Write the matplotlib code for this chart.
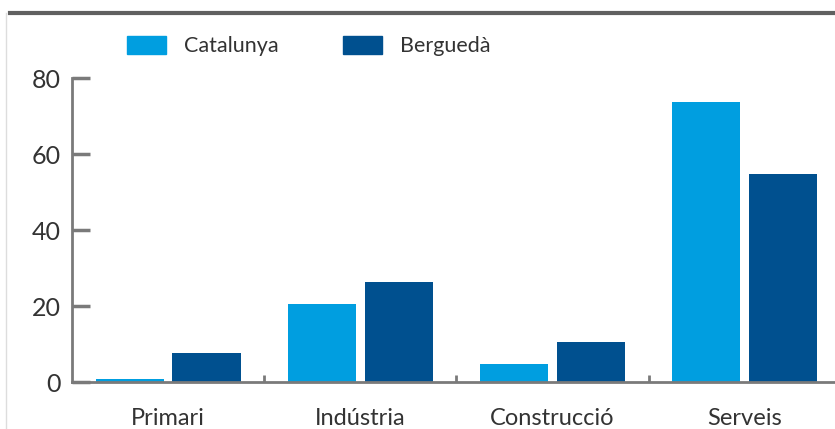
import numpy as np
import matplotlib.pyplot as plt
from matplotlib.lines import Line2D
from matplotlib.patches import Patch

plt.rcParams['font.family'] = ['Lato', 'DejaVu Sans']

categories = ['Primari', 'Indústria', 'Construcció', 'Serveis']
catalunya = [0.8, 20.5, 4.7, 73.8]
bergueda = [7.7, 26.3, 10.5, 54.8]
series_names = ['Catalunya', 'Berguedà']
yticks = [0, 20, 40, 60, 80]

c_cat = '#009ee0'
c_ber = '#00508f'
grey = '#7a7a7a'

fig = plt.figure(figsize=(8.35, 4.29), dpi=100)
ax = fig.add_axes([72 / 835, 1 - 382 / 429, 1 - 72 / 835, (382 - 78) / 429])

x = np.arange(len(categories))
w = 0.355
ax.bar(x - 0.2, catalunya, w, color=c_cat, zorder=2)
ax.bar(x + 0.2, bergueda, w, color=c_ber, zorder=2)

ax.set_xlim(-0.5, 3.47)
ax.set_ylim(0, 80)
ax.set_yticks(yticks)
ax.set_xticks(x)
ax.set_xticklabels(categories, fontsize=17, color='#333333')
ax.set_xticks(x[:-1] + 0.5, minor=True)

for s in ['top', 'right']:
    ax.spines[s].set_visible(False)
for s in ['left', 'bottom']:
    ax.spines[s].set_color(grey)
    ax.spines[s].set_linewidth(2)

ax.tick_params(axis='y', direction='in', length=13, width=2.5, color=grey,
               labelsize=18, labelcolor='#333333', pad=8)
ax.tick_params(axis='x', which='major', length=0, pad=19)
ax.tick_params(axis='x', which='minor', direction='in', length=5, width=2, color=grey)

# decorative frame lines
fig.add_artist(Line2D([10 / 835, 1], [1 - 13 / 429] * 2, color='#606060', lw=3))
fig.add_artist(Line2D([6 / 835] * 2, [0, 1 - 13 / 429], color='#dddddd', lw=1))

handles = [Patch(color=c_cat), Patch(color=c_ber)]
fig.legend(handles, series_names, loc='center left', ncol=2, frameon=False,
           bbox_to_anchor=(127 / 835, 1 - 46 / 429), borderpad=0, borderaxespad=0,
           handlelength=1.8, handleheight=0.9, handletextpad=0.85,
           columnspacing=3.0, fontsize=15.5, labelcolor='#333333')

fig.savefig('out.png', dpi=100)
